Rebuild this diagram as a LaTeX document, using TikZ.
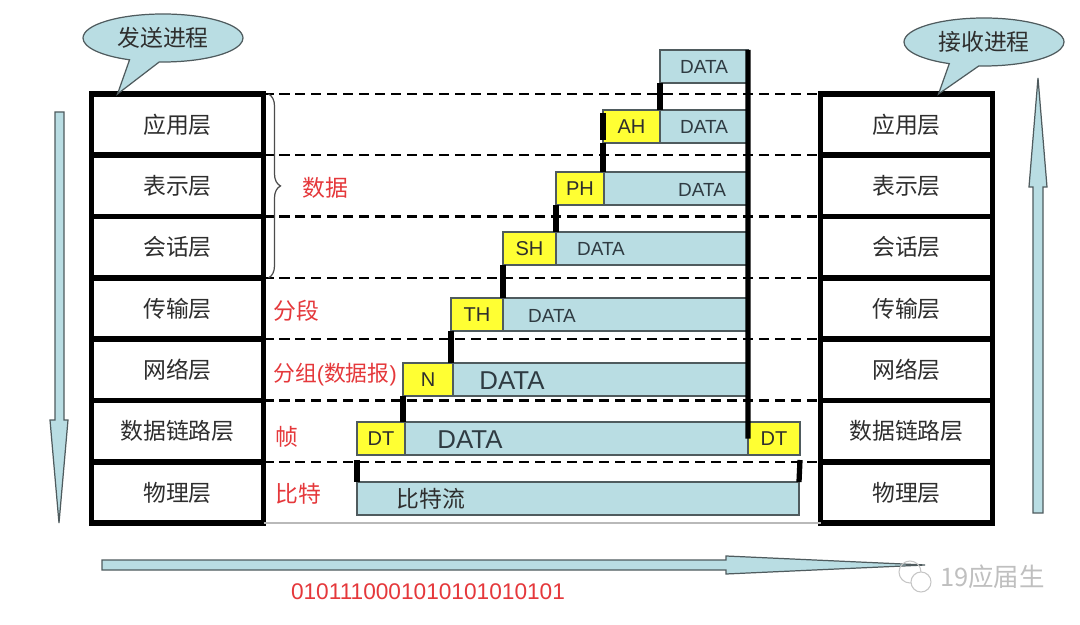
\documentclass[tikz,border=0pt]{standalone}
\usepackage{fontspec}
\setmainfont{Liberation Sans}
\newfontfamily\cjk{Noto Sans CJK SC}
\usetikzlibrary{shapes.callouts,decorations.pathreplacing}
\definecolor{Pale}{HTML}{B9DDE3}
\definecolor{Hdr}{HTML}{FFFF33}
\definecolor{Edge}{HTML}{4F5B5E}
\definecolor{Ink}{HTML}{2E2E2E}
\definecolor{DataInk}{HTML}{2F3B42}
\definecolor{Mark}{HTML}{E5383B}

\begin{document}
\begin{tikzpicture}[x=0.02cm,y=-0.02cm,
  layer/.style={draw=black,line width=3.2pt,fill=white,minimum width=172*\pu,minimum height=61.3*\pu,
    inner sep=0pt,outer sep=0pt,font=\cjk\fontsize{13}{15}\selectfont,text=Ink},
  hdr/.style={draw=Edge,line width=0.6pt,fill=Hdr,anchor=north west,minimum height=33*\pu,
    inner sep=0pt,outer sep=0pt,font=\fontsize{11.4}{13}\selectfont,text=Ink},
  pay/.style={hdr,fill=Pale,font=\fontsize{10.8}{12}\selectfont,text=DataInk},
  dtext/.style={font=\fontsize{10.8}{12}\selectfont,text=DataInk},
  bigtext/.style={font=\fontsize{14.7}{17}\selectfont,text=DataInk},
  redlbl/.style={font=\cjk\fontsize{13}{15}\selectfont,text=Mark},
  tick/.style={line width=3pt,black},
  sep/.style={line width=1.3pt,dash pattern=on 5.7pt off 3.4pt},
  bubble/.style={ellipse callout,draw=Edge,fill=Pale,line width=0.7pt,minimum width=160*\pu,
    minimum height=48*\pu,callout pointer arc=22,font=\cjk\fontsize{13}{15}\selectfont,text=Ink},
  flow/.style={draw=Edge,fill=Pale,line width=0.7pt}]
  \def\pu{0.02cm}
  \fill[white] (0,0) rectangle (1080,625);
  \useasboundingbox (0,0) rectangle (1080,625);

  % the two protocol stacks
  \foreach \nm [count=\i] in {应用层,表示层,会话层,传输层,网络层,数据链路层,物理层}{
    \node[layer] (L\i) at (177.5,{63.35+61.3*\i}) {\nm};
    \node[layer] (R\i) at (906.5,{63.35+61.3*\i}) {\nm};
  }
  \foreach \i in {1,...,7}{\draw[sep] (L\i.north east) -- (R\i.north west);}
  \draw[gray!55,line width=0.8pt] (L7.south east) -- (R7.south west);

  \node[bubble,callout absolute pointer={([xshift=0.52cm]L1.north west)}] (send) at (163,38) {发送进程};
  \node[bubble,callout absolute pointer={([xshift=-1.08cm]R1.north east)}] (recv) at (984,42) {接收进程};

  % direction arrows
  \draw[flow] (55,112) -- (64,112) -- (64,420) -- (68,420) -- (59,523) -- (50,420) -- (55,420) -- cycle;
  \draw[flow] (1033,513) -- (1043,513) -- (1043,187) -- (1047,187) -- (1038,78) -- (1029,187) -- (1033,187) -- cycle;
  \draw[flow] (102,560) -- (726,560) -- (726,556) -- (925,565) -- (726,574) -- (726,570) -- (102,570) -- cycle;

  % unit names
  \draw[gray!60!black,line width=0.7pt,decorate,decoration={brace,amplitude=0.24cm}]
    ([xshift=0.1cm]L1.north east) -- ([xshift=0.1cm]L3.south east);
  \node[redlbl] (lbdata) at (325,188) {数据};
  \node[redlbl] (lbseg) at (296,311) {分段};
  \node[redlbl,anchor=west,inner sep=0pt,font=\cjk\fontsize{12.4}{15}\selectfont]
    (lbpkt) at (273,375) {分组{\rmfamily(}数据报{\rmfamily)}};
  \node[redlbl] (lbframe) at (287,437) {帧};
  \node[redlbl] (lbbit) at (298,494) {比特};

  % encapsulation
  \node[pay,minimum width=88*\pu] (d1) at (660,50) {DATA};
  \node[hdr,minimum width=57*\pu] (ah) at (603,110) {AH};
  \node[pay,minimum width=88*\pu] (d2) at (660,110) {DATA};
  \node[hdr,minimum width=48*\pu] (ph) at (556,172) {PH};
  \node[pay,minimum width=144*\pu] (d3) at (604,172) {};
  \node[hdr,minimum width=53*\pu] (sh) at (503,232) {SH};
  \node[pay,minimum width=192*\pu] (d4) at (556,232) {};
  \node[hdr,minimum width=52*\pu] (th) at (451,298) {TH};
  \node[pay,minimum width=245*\pu] (d5) at (503,298) {};
  \node[hdr,minimum width=50*\pu] (nh) at (403,363) {N};
  \node[pay,minimum width=295*\pu] (d6) at (453,363) {};
  \node[hdr,minimum width=48*\pu] (dt1) at (357,422) {DT};
  \node[pay,minimum width=343*\pu] (d7) at (405,422) {};
  \node[hdr,minimum width=52*\pu] (dt2) at (748,422) {DT};
  \node[pay,minimum width=442*\pu] (bits) at (357,482) {};

  \node[dtext] (t3) at (702,190) {DATA};
  \node[dtext] (t4) at (601,249) {DATA};
  \node[dtext] (t5) at (552,316) {DATA};
  \node[bigtext] (t6) at (512,381) {DATA};
  \node[bigtext] (t7) at (470,440) {DATA};
  \node[font=\cjk\fontsize{13}{15}\selectfont,text=Ink] (tbits) at (431,499) {比特流};

  \draw[tick] (d1.north east) -- (d7.east);
  \draw[tick] (d1.south west) -- (d1.south west |- ah.north);
  \draw[tick] ([yshift=-0.06cm]ah.north west) -- ([yshift=0.06cm]ah.south west);
  \draw[tick] (ah.south west) -- (ah.south west |- ph.north);
  \draw[tick] (ph.south west) -- (ph.south west |- sh.north);
  \draw[tick] (sh.south west) -- (sh.south west |- th.north);
  \draw[tick] (th.south west) -- (th.south west |- nh.north);
  \draw[tick] (nh.south west) -- (nh.south west |- dt1.north);
  \draw[tick] ([yshift=-0.1cm]dt1.south west) -- (bits.north west);
  \draw[tick] ([yshift=-0.1cm]dt2.south east) -- (bits.north east);

  \node[text=Mark,font=\fontsize{12.9}{15}\selectfont] (bitstr) at (428,592) {0101110001010101010101};

  % watermark
  \draw[gray!45,line width=0.6pt] (910,572) circle[radius=0.22cm];
  \draw[gray!45,line width=0.6pt,fill=white] (921,582) circle[radius=0.2cm];
  \node[text=gray!50,font=\cjk\fontsize{14.5}{16}\selectfont,anchor=west] (wm) at (934,577) {19应届生};
\end{tikzpicture}
\end{document}
